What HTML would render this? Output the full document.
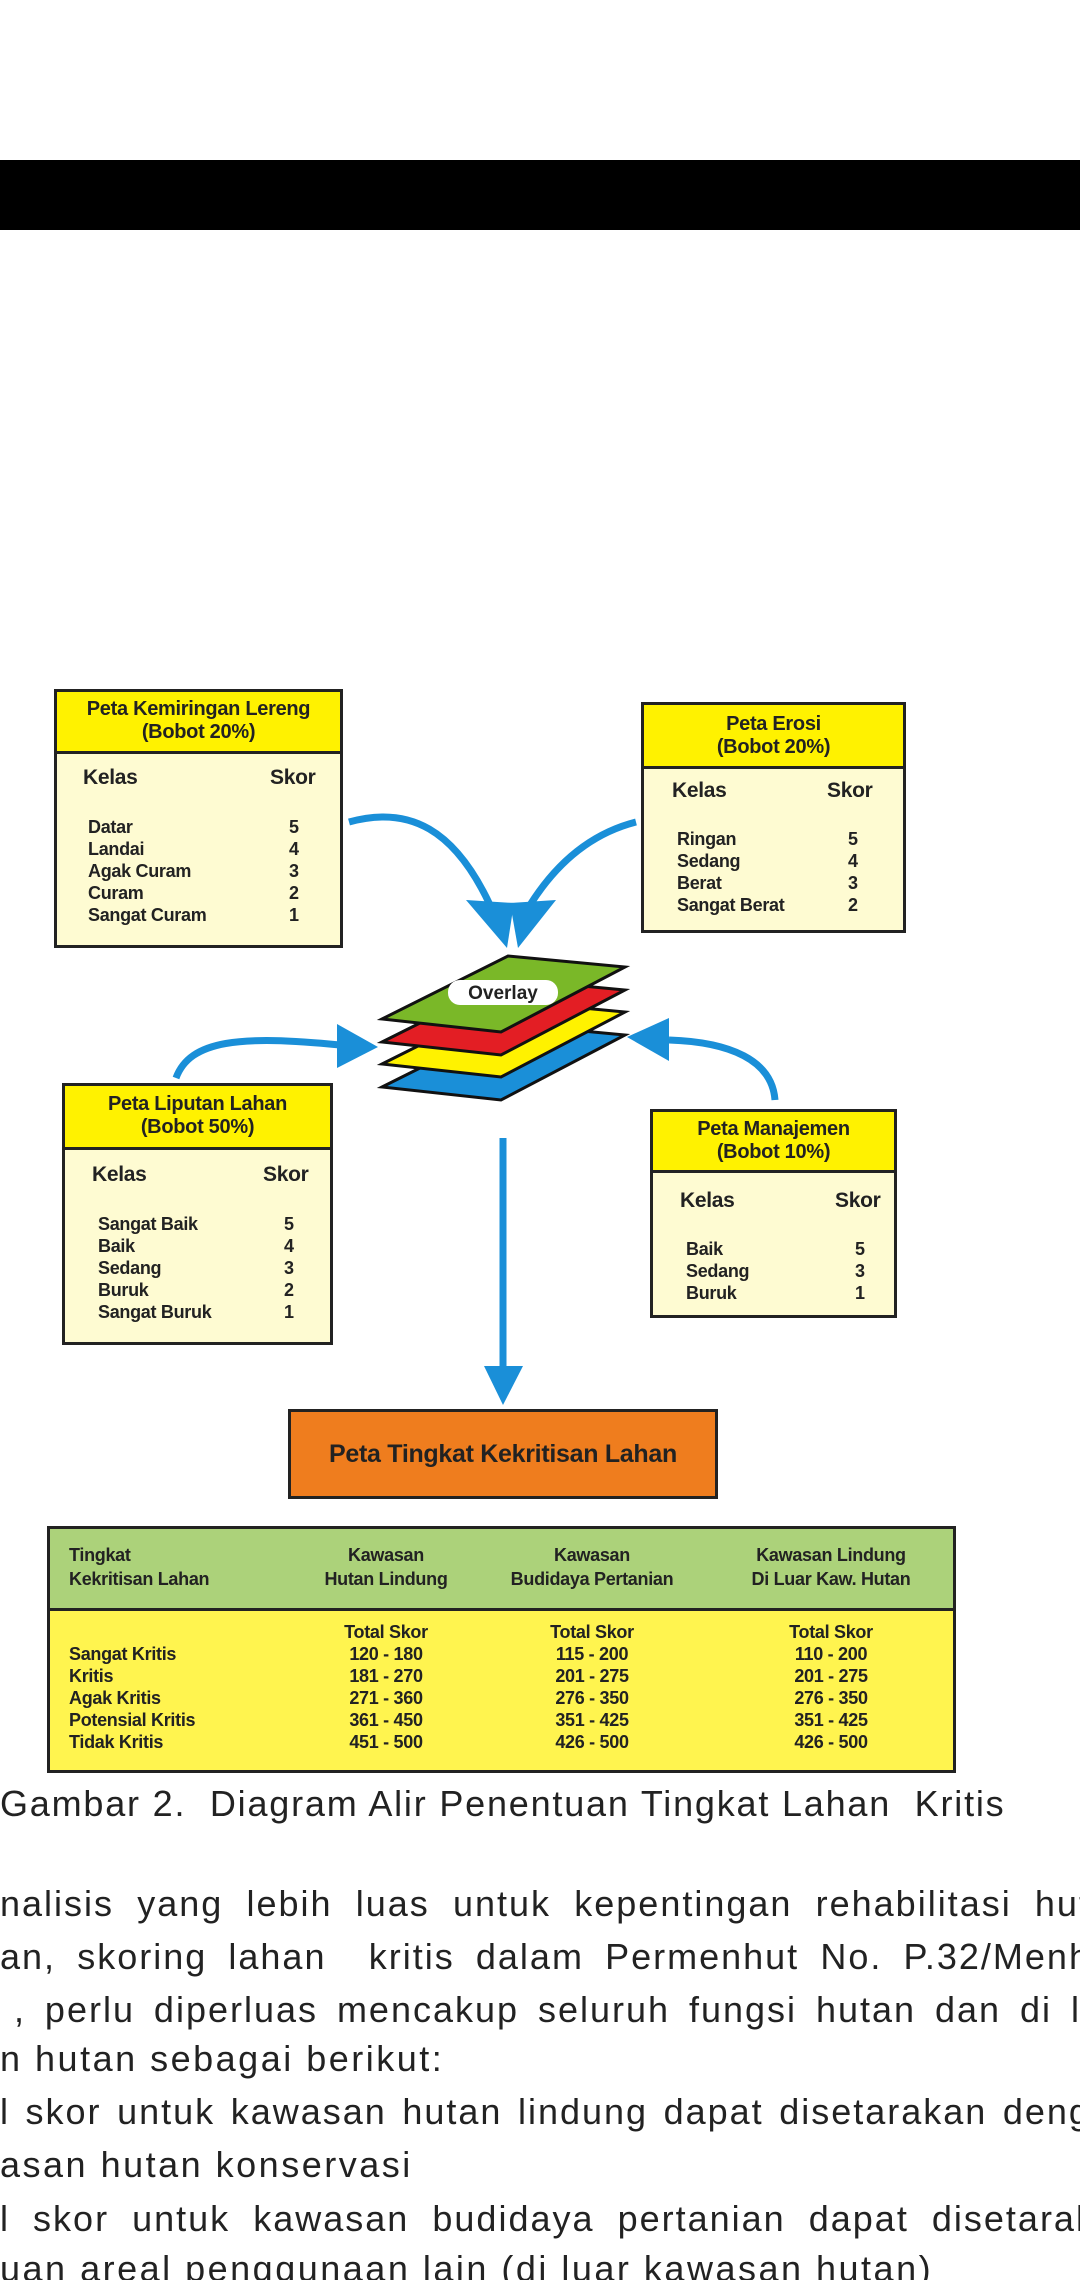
<!DOCTYPE html>
<html><head><meta charset="utf-8">
<style>
*{margin:0;padding:0;box-sizing:border-box}
html,body{width:1080px;height:2280px;overflow:hidden;background:#fff;position:relative;font-family:"Liberation Sans",sans-serif}
.a{position:absolute}
.box{position:absolute;border:3px solid #222;background:#fefbd2}
.hd{position:absolute;left:0;right:0;top:0;background:#fff200;border-bottom:3px solid #222;text-align:center;font-weight:bold;font-size:20px;color:#222;line-height:23px;letter-spacing:-0.3px}
.t{position:absolute;font-weight:bold;color:#222;white-space:nowrap;letter-spacing:-0.3px}
.k{font-size:21px}
.i{font-size:18px;line-height:22px}
.p{position:absolute;left:0;font-size:36px;color:#222;line-height:40px;white-space:nowrap;letter-spacing:2px}
.j{text-align:justify;text-align-last:justify;white-space:normal;height:40px;overflow:hidden}
</style></head><body>
<div class="a" style="left:0;top:160px;width:1080px;height:70px;background:#000"></div>

<svg class="a" style="left:0;top:0" width="1080" height="1500">
<g fill="none" stroke="#1a8fd8" stroke-width="7">
<path d="M349 822 C 410 805 455 830 490 905"/>
<path d="M636 822 C 585 835 552 870 530 905"/>
<path d="M176 1078 C 190 1040 240 1035 340 1045"/>
<path d="M775 1100 C 772 1060 730 1042 669 1040"/>
<path d="M503 1138 L 503 1370"/>
</g>
<g fill="#1a8fd8">
<polygon points="466,900 514,903 507,948"/>
<polygon points="510,903 556,900 518,948"/>
<polygon points="337,1024 378,1047 337,1068"/>
<polygon points="669,1018 627,1037 669,1061"/>
<polygon points="484,1366 523,1366 503,1405"/>
</g>
<g stroke="#111" stroke-width="3">
<polygon points="382,1087 508,1024 625,1035 501,1100" fill="#1a8fd8"/>
<polygon points="382,1064 508,1001 625,1012 501,1077" fill="#fff200"/>
<polygon points="382,1042 508,979 625,990 501,1055" fill="#e31e24"/>
<polygon points="382,1019 508,956 625,967 501,1032" fill="#7ab828"/>
</g>
<rect x="448" y="980" width="110" height="25" rx="12" fill="#fff"/>
<text x="503" y="999" text-anchor="middle" font-family="Liberation Sans, sans-serif" font-weight="bold" font-size="19" fill="#222">Overlay</text>
</svg>

<!-- Kemiringan -->
<div class="box" style="left:54px;top:689px;width:289px;height:259px">
<div class="hd" style="height:62px;padding-top:6px">Peta Kemiringan Lereng<br>(Bobot 20%)</div></div>
<div class="t k" style="left:83px;top:766px">Kelas</div><div class="t k" style="left:270px;top:766px">Skor</div>
<div class="t i" style="left:88px;top:816px">Datar<br>Landai<br>Agak Curam<br>Curam<br>Sangat Curam</div>
<div class="t i" style="left:289px;top:816px">5<br>4<br>3<br>2<br>1</div>

<!-- Erosi -->
<div class="box" style="left:641px;top:702px;width:265px;height:231px">
<div class="hd" style="height:64px;padding-top:8px">Peta Erosi<br>(Bobot 20%)</div></div>
<div class="t k" style="left:672px;top:779px">Kelas</div><div class="t k" style="left:827px;top:779px">Skor</div>
<div class="t i" style="left:677px;top:828px">Ringan<br>Sedang<br>Berat<br>Sangat Berat</div>
<div class="t i" style="left:848px;top:828px">5<br>4<br>3<br>2</div>

<!-- Liputan -->
<div class="box" style="left:62px;top:1083px;width:271px;height:262px">
<div class="hd" style="height:64px;padding-top:7px">Peta Liputan Lahan<br>(Bobot 50%)</div></div>
<div class="t k" style="left:92px;top:1163px">Kelas</div><div class="t k" style="left:263px;top:1163px">Skor</div>
<div class="t i" style="left:98px;top:1213px">Sangat Baik<br>Baik<br>Sedang<br>Buruk<br>Sangat Buruk</div>
<div class="t i" style="left:284px;top:1213px">5<br>4<br>3<br>2<br>1</div>

<!-- Manajemen -->
<div class="box" style="left:650px;top:1109px;width:247px;height:209px">
<div class="hd" style="height:61px;padding-top:6px">Peta Manajemen<br>(Bobot 10%)</div></div>
<div class="t k" style="left:680px;top:1189px">Kelas</div><div class="t k" style="left:835px;top:1189px">Skor</div>
<div class="t i" style="left:686px;top:1238px">Baik<br>Sedang<br>Buruk</div>
<div class="t i" style="left:855px;top:1238px">5<br>3<br>1</div>

<!-- Orange -->
<div class="a" style="left:288px;top:1409px;width:430px;height:90px;background:#ef7d1e;border:3px solid #222;text-align:center;line-height:84px;font-weight:bold;font-size:25px;color:#222;letter-spacing:-0.3px">Peta Tingkat Kekritisan Lahan</div>

<!-- Table -->
<div class="a" style="left:47px;top:1526px;width:909px;height:247px;background:#fff44f;border:3px solid #222">
<div style="position:absolute;left:0;right:0;top:0;height:82px;background:#acd27a;border-bottom:3px solid #222"></div></div>
<div class="t i" style="left:69px;top:1543px;line-height:24px">Tingkat<br>Kekritisan Lahan</div>
<div class="t i" style="left:286px;width:200px;text-align:center;top:1543px;line-height:24px">Kawasan<br>Hutan Lindung</div>
<div class="t i" style="left:492px;width:200px;text-align:center;top:1543px;line-height:24px">Kawasan<br>Budidaya Pertanian</div>
<div class="t i" style="left:721px;width:220px;text-align:center;top:1543px;line-height:24px">Kawasan Lindung<br>Di Luar Kaw. Hutan</div>
<div class="t i" style="left:69px;top:1643px">Sangat Kritis<br>Kritis<br>Agak Kritis<br>Potensial Kritis<br>Tidak Kritis</div>
<div class="t i" style="left:286px;width:200px;text-align:center;top:1621px">Total Skor<br>120 - 180<br>181 - 270<br>271 - 360<br>361 - 450<br>451 - 500</div>
<div class="t i" style="left:492px;width:200px;text-align:center;top:1621px">Total Skor<br>115 - 200<br>201 - 275<br>276 - 350<br>351 - 425<br>426 - 500</div>
<div class="t i" style="left:721px;width:220px;text-align:center;top:1621px">Total Skor<br>110 - 200<br>201 - 275<br>276 - 350<br>351 - 425<br>426 - 500</div>

<div class="p" style="top:1784px;letter-spacing:1.8px">Gambar 2.&nbsp; Diagram Alir Penentuan Tingkat Lahan&nbsp; Kritis</div>
<div class="p j" style="top:1884px;width:1135px">nalisis yang lebih luas untuk kepentingan rehabilitasi hutan</div>
<div class="p j" style="top:1937px;width:1125px">an, skoring lahan&nbsp; kritis dalam Permenhut No. P.32/Menhut</div>
<div class="p j" style="top:1990px;width:1125px;left:14px">, perlu diperluas mencakup seluruh fungsi hutan dan di luar</div>
<div class="p" style="top:2039px;letter-spacing:2.5px">n hutan sebagai berikut:</div>
<div class="p j" style="top:2092px;width:1135px">l skor untuk kawasan hutan lindung dapat disetarakan dengan</div>
<div class="p" style="top:2145px;letter-spacing:2.5px">asan hutan konservasi</div>
<div class="p j" style="top:2199px;width:1140px">l skor untuk kawasan budidaya pertanian dapat disetarakan</div>
<div class="p" style="top:2249px;letter-spacing:2.5px">uan areal penggunaan lain (di luar kawasan hutan)</div>
</body></html>
